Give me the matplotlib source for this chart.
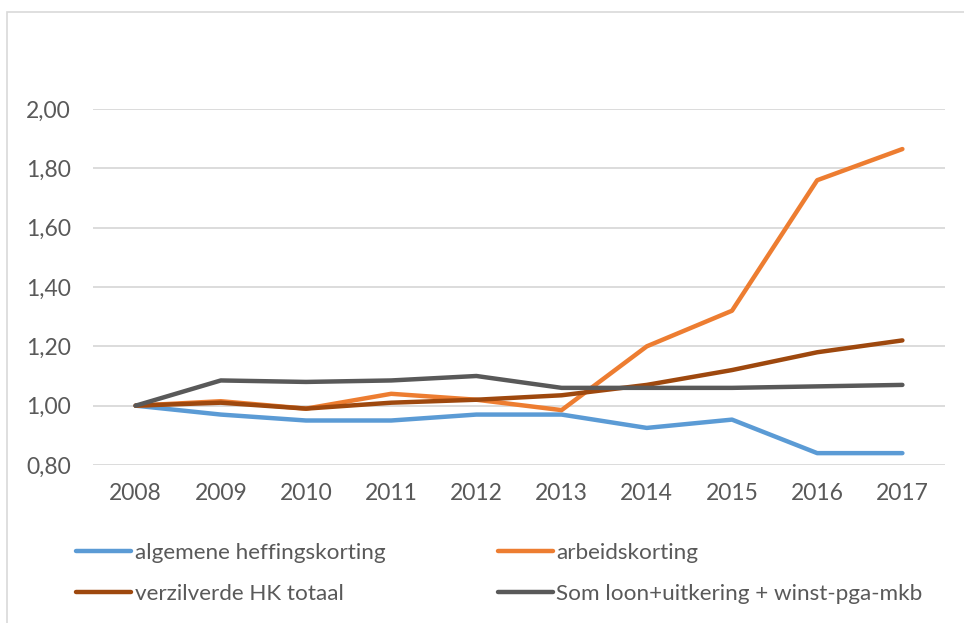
import matplotlib
matplotlib.use("Agg")
import matplotlib.pyplot as plt
from matplotlib.patches import Rectangle

years = [2008, 2009, 2010, 2011, 2012, 2013, 2014, 2015, 2016, 2017]
algemene_heffingskorting = [1.00, 0.97, 0.95, 0.95, 0.97, 0.97, 0.925, 0.953, 0.84, 0.84]
arbeidskorting = [1.00, 1.015, 0.99, 1.04, 1.02, 0.985, 1.20, 1.32, 1.76, 1.865]
verzilverde_hk_totaal = [1.00, 1.01, 0.99, 1.01, 1.02, 1.035, 1.07, 1.12, 1.18, 1.22]
som_loon = [1.00, 1.085, 1.08, 1.085, 1.10, 1.06, 1.06, 1.06, 1.065, 1.07]
labels = ["algemene heffingskorting", "arbeidskorting",
          "verzilverde HK totaal", "Som loon+uitkering + winst-pga-mkb"]
yticks = [0.80, 1.00, 1.20, 1.40, 1.60, 1.80, 2.00]

plt.rcParams['font.family'] = ['Lato', 'DejaVu Sans']

W, H = 964, 623
fig = plt.figure(figsize=(W / 100, H / 100), dpi=100)
fig.patch.set_facecolor('white')

# outer chart frame
fig.patches.append(Rectangle((7 / W, -0.05), 1.2, 1 - 12 / H + 0.05,
                             transform=fig.transFigure, fill=False,
                             edgecolor='#D9D9D9', linewidth=1.2))

ax = fig.add_axes([93 / W, 1 - 465 / H, (945 - 93) / W, (465 - 109) / H])
colors = ['#5B9BD5', '#ED7D31', '#9E480E', '#595959']
series = [algemene_heffingskorting, arbeidskorting, verzilverde_hk_totaal, som_loon]
handles = []
for s, c, l in zip(series, colors, labels):
    h, = ax.plot(years, s, color=c, linewidth=3.2, label=l, solid_capstyle='round',
                 solid_joinstyle='round', zorder=3)
    handles.append(h)

ax.set_xlim(2007.5, 2017.5)
ax.set_ylim(0.8, 2.0)
ax.set_yticks(yticks)
ax.set_yticklabels([f"{v:.2f}".replace('.', ',') for v in yticks])
ax.set_xticks(years)
ax.set_xticklabels([str(y) for y in years])
ax.grid(axis='y', color='#D9D9D9', linewidth=1.3, zorder=0)
for sp in ax.spines.values():
    sp.set_visible(False)
ax.tick_params(axis='both', length=0, labelsize=16.5, labelcolor='#595959')
ax.tick_params(axis='y', pad=16)
ax.tick_params(axis='x', pad=13)

order = [0, 2, 1, 3]
fig.legend([handles[i] for i in order], [labels[i] for i in order], ncol=2,
           loc='upper left', bbox_to_anchor=(65 / W, 1 - 532 / H), frameon=False,
           borderpad=0, fontsize=16.2, labelcolor='#595959', handlelength=2.45,
           handletextpad=0.15, columnspacing=5.0, labelspacing=0.92)

fig.savefig("out.png", dpi=100)
